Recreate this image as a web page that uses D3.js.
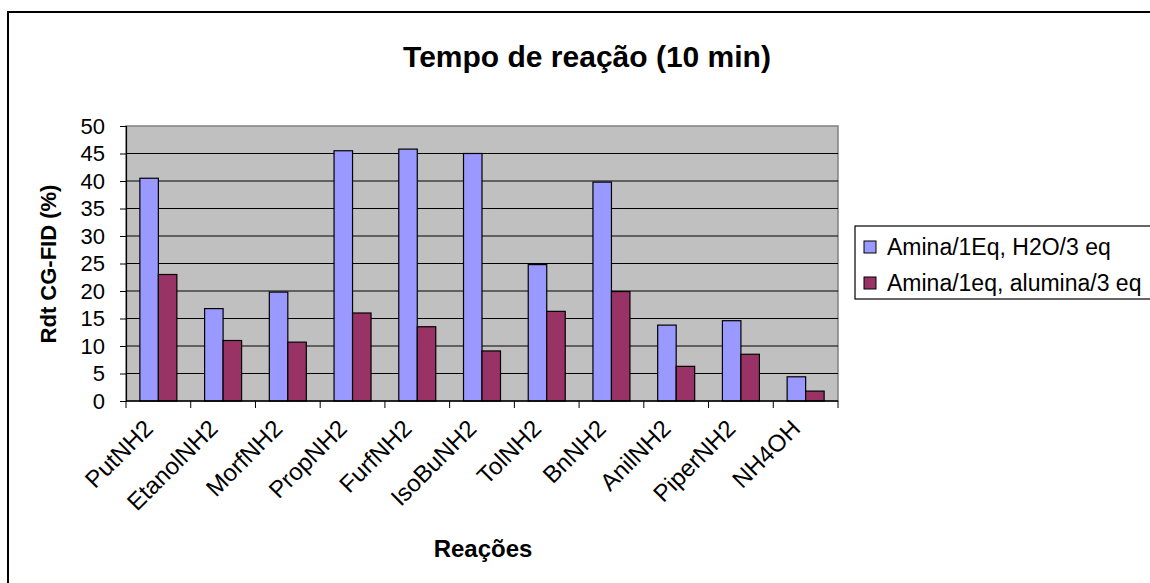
<!DOCTYPE html>
<html>
<head>
<meta charset="utf-8">
<script src="https://cdn.jsdelivr.net/npm/d3@7"></script>
<style>
  html, body { margin: 0; padding: 0; background: #fff; }
  svg { display: block; font-family: Arial, "Liberation Sans", sans-serif; }
</style>
</head>
<body>
<svg id="chart" width="1150" height="583"></svg>
<script>
// Reaction yields after 10 min, per amine
const categories = ["PutNH2", "EtanolNH2", "MorfNH2", "PropNH2", "FurfNH2", "IsoBuNH2",
                    "TolNH2", "BnNH2", "AnilNH2", "PiperNH2", "NH4OH"];
const seriesNames = ["Amina/1Eq, H2O/3 eq", "Amina/1eq, alumina/3 eq"];
const waterValues   = [40.5, 16.8, 19.8, 45.5, 45.8, 45.0, 24.8, 39.8, 13.8, 14.6, 4.4];
const aluminaValues = [23.0, 11.0, 10.7, 16.0, 13.5, 9.1, 16.3, 19.9, 6.3, 8.5, 1.8];
const yTicks = [0, 5, 10, 15, 20, 25, 30, 35, 40, 45, 50];
const colors = ["#9999FF", "#993366"];

const svg = d3.select("#chart");

// Chart frame (runs off the right and bottom edges)
svg.append("rect")
  .attr("x", 8).attr("y", 12)
  .attr("width", 1160).attr("height", 600)
  .attr("fill", "#fff").attr("stroke", "#000").attr("stroke-width", 2);

const plot = { left: 126, top: 126, right: 838, bottom: 401 };

const x = d3.scaleBand().domain(categories).range([plot.left, plot.right]).padding(0);
const y = d3.scaleLinear().domain([0, 50]).range([plot.bottom, plot.top]);

// Plot background
svg.append("rect")
  .attr("x", plot.left).attr("y", plot.top)
  .attr("width", plot.right - plot.left).attr("height", plot.bottom - plot.top)
  .attr("fill", "#C0C0C0").attr("stroke", "#808080").attr("stroke-width", 1.5);

// Horizontal gridlines
svg.append("g")
  .selectAll("line")
  .data(yTicks.filter(t => t > 0 && t < 50))
  .join("line")
  .attr("x1", plot.left).attr("x2", plot.right)
  .attr("y1", d => y(d)).attr("y2", d => y(d))
  .attr("stroke", "#000").attr("stroke-width", 1);

// Bars: two per category, gap of 1.5 bar widths between pairs
const series = [waterValues, aluminaValues];
const barW = x.bandwidth() / 3.5;
series.forEach((vals, si) => {
  svg.append("g")
    .selectAll("rect")
    .data(vals)
    .join("rect")
    .attr("x", (d, i) => x(categories[i]) + 0.75 * barW + si * barW)
    .attr("y", d => y(d))
    .attr("width", barW)
    .attr("height", d => y(0) - y(d))
    .attr("fill", colors[si])
    .attr("stroke", "#000")
    .attr("stroke-width", 1.2);
});

// Y axis
const yAxis = d3.axisLeft(y).tickValues(yTicks).tickSize(6).tickPadding(15);
const gy = svg.append("g").attr("transform", `translate(${plot.left},0)`).call(yAxis);
gy.select(".domain").attr("stroke", "#000").attr("stroke-width", 1.2);
gy.selectAll(".tick line").attr("stroke", "#000");
gy.selectAll(".tick text").attr("font-size", 22).attr("fill", "#000")
  .attr("font-family", "Arial, 'Liberation Sans', sans-serif");

// X axis: ticks at category boundaries
const boundaries = categories.map(c => x(c)).concat([plot.right]);
svg.append("line")
  .attr("x1", plot.left).attr("x2", plot.right)
  .attr("y1", plot.bottom).attr("y2", plot.bottom)
  .attr("stroke", "#000").attr("stroke-width", 1.5);
svg.append("g").selectAll("line")
  .data(boundaries)
  .join("line")
  .attr("x1", d => d).attr("x2", d => d)
  .attr("y1", plot.bottom).attr("y2", plot.bottom + 7)
  .attr("stroke", "#000").attr("stroke-width", 1);

// Category labels, rotated 45°
svg.append("g").selectAll("text")
  .data(categories)
  .join("text")
  .attr("transform", d => `translate(${x(d) + x.bandwidth() / 2 - 4},${plot.bottom + 29}) rotate(-45)`)
  .attr("text-anchor", "end")
  .attr("font-size", 24)
  .attr("fill", "#000")
  .text(d => d);

// Title
svg.append("text")
  .attr("x", 587).attr("y", 67)
  .attr("text-anchor", "middle")
  .attr("font-size", 30).attr("font-weight", "bold")
  .text("Tempo de reação (10 min)");

// Axis titles
svg.append("text")
  .attr("transform", `translate(56,264) rotate(-90)`)
  .attr("text-anchor", "middle")
  .attr("font-size", 22).attr("font-weight", "bold")
  .text("Rdt CG-FID (%)");

svg.append("text")
  .attr("x", 483).attr("y", 557)
  .attr("text-anchor", "middle")
  .attr("font-size", 24).attr("font-weight", "bold")
  .text("Reações");

// Legend
const legend = svg.append("g");
legend.append("rect")
  .attr("x", 855).attr("y", 226).attr("width", 320).attr("height", 73)
  .attr("fill", "#fff").attr("stroke", "#000").attr("stroke-width", 1.2);
seriesNames.forEach((name, i) => {
  const cy = 247 + i * 36;
  legend.append("rect")
    .attr("x", 864).attr("y", cy - 6).attr("width", 12).attr("height", 12)
    .attr("fill", colors[i]).attr("stroke", "#000").attr("stroke-width", 1);
  legend.append("text")
    .attr("x", 887).attr("y", cy).attr("dy", "0.35em")
    .attr("font-size", 23)
    .text(name);
});
</script>
</body>
</html>
